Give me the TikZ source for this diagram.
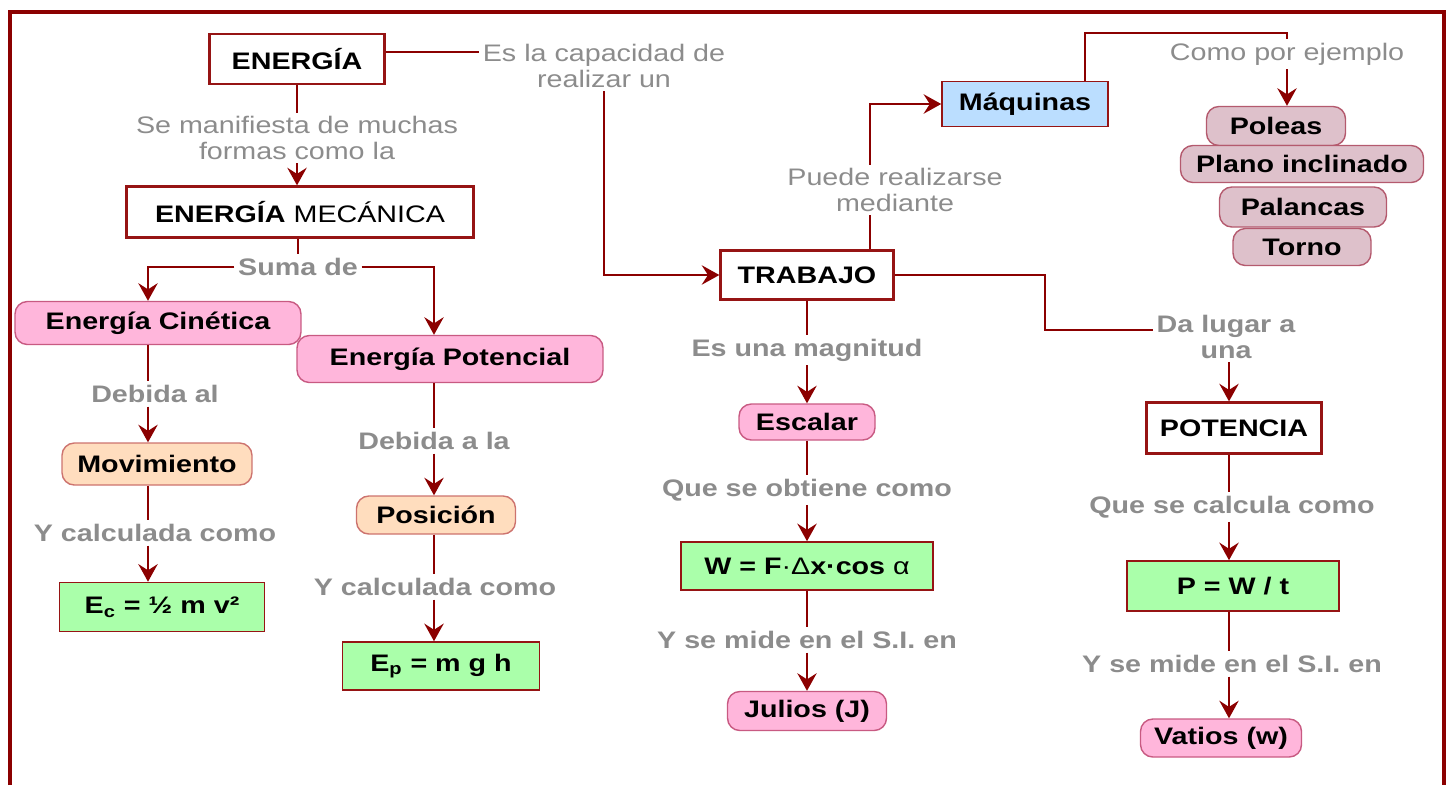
\documentclass[tikz,border=0pt]{standalone}
\usepackage{fontspec}
\setmainfont{Liberation Sans}[FakeStretch=1.2]
\usetikzlibrary{arrows.meta}
\definecolor{linea}{RGB}{139,0,0}
\definecolor{borde}{RGB}{150,20,20}
\definecolor{gris}{RGB}{140,140,140}
\definecolor{rosafondo}{RGB}{255,182,219}
\definecolor{rosaborde}{RGB}{200,90,130}
\definecolor{melfondo}{RGB}{255,221,190}
\definecolor{melborde}{RGB}{205,115,110}
\definecolor{malfondo}{RGB}{222,193,203}
\definecolor{malborde}{RGB}{180,90,110}
\definecolor{verde}{RGB}{170,255,170}
\definecolor{celeste}{RGB}{187,222,255}

\begin{document}
\begin{tikzpicture}[x=0.02cm,y=-0.02cm,>={Stealth[length=10pt,width=11pt,inset=3.5pt]}]
 \newcommand{\tam}{\fontsize{13.6}{14.6}\selectfont}
 \tikzstyle{concepto} = [draw=borde,line width=1.3pt,fill=white,inner sep=0pt,font=\tam\bfseries]
 \tikzstyle{rosa} = [draw=rosaborde,line width=0.8pt,fill=rosafondo,rounded corners=7pt,inner sep=0pt,font=\tam\bfseries]
 \tikzstyle{melocoton} = [rosa,draw=melborde,fill=melfondo]
 \tikzstyle{malva} = [rosa,draw=malborde,fill=malfondo]
 \tikzstyle{formula} = [draw=borde,line width=0.9pt,fill=verde,inner sep=0pt,font=\tam\bfseries]
 \tikzstyle{azul} = [draw=borde,line width=0.9pt,fill=celeste,inner sep=0pt,font=\tam\bfseries]
 \tikzstyle{enlace} = [text=gris,align=center,inner sep=2pt,font=\tam\bfseries]
 \tikzstyle{enlacefino} = [text=gris,align=center,inner sep=2pt,font=\tam]
 \tikzstyle{conector} = [draw=linea,line width=1.4pt]
 \tikzstyle{flecha} = [conector,->]

 \useasboundingbox (0,0) rectangle (1449,785);

% Marco
 \draw[linea,line width=2pt] (10,785) -- (10,12) -- (1444,12) -- (1444,785);

% Conceptos
 \node[concepto,minimum width=3.5cm,minimum height=1cm] (ener) at (297,59) {ENERGÍA};
 \node[concepto,minimum width=6.94cm,minimum height=1.02cm] (mec) at (300,212) {ENERGÍA \mdseries MECÁNICA};
 \node[concepto,minimum width=3.46cm,minimum height=0.98cm] (trab) at (807,275) {TRABAJO};
 \node[concepto,minimum width=3.5cm,minimum height=1.02cm] (potn) at (1234,428) {POTENCIA};

% Cajas
 \node[rosa,minimum width=5.72cm,minimum height=0.86cm] (cin) at (158,323) {Energía Cinética};
 \node[rosa,minimum width=6.12cm,minimum height=0.94cm] (pot) at (450,359) {Energía Potencial};
 \node[rosa,minimum width=2.72cm,minimum height=0.72cm] (esc) at (807,422) {Escalar};
 \node[rosa,minimum width=3.18cm,minimum height=0.78cm] (jul) at (807,711) {Julios (J)};
 \node[rosa,minimum width=3.22cm,minimum height=0.76cm] (vat) at (1221,738) {Vatios (w)};
 \node[melocoton,minimum width=3.8cm,minimum height=0.84cm] (mov) at (157,464) {Movimiento};
 \node[melocoton,minimum width=3.18cm,minimum height=0.76cm] (pos) at (436,515) {Posición};
 \node[formula,minimum width=4.1cm,minimum height=0.98cm] (ec) at (162,607) {E\textsubscript{c} = ½ m v²};
 \node[formula,minimum width=3.94cm,minimum height=0.96cm] (ep) at (441,666) {E\textsubscript{p} = m g h};
 \node[formula,minimum width=5.04cm,minimum height=0.96cm] (wf) at (807,566) {W = F{\mdseries·Δ}x·cos {\mdseries α}};
 \node[formula,minimum width=4.24cm,minimum height=1cm] (pf) at (1233,586) {P = W / t};
 \node[azul,minimum width=3.32cm,minimum height=0.9cm] (maq) at (1025,104) {Máquinas};
 \node[malva,minimum width=2.78cm,minimum height=0.78cm] (pol) at (1276,126) {Poleas};
 \node[malva,minimum width=4.86cm,minimum height=0.74cm] (pla) at (1302,164) {Plano inclinado};
 \node[malva,minimum width=3.34cm,minimum height=0.8cm] (pal) at (1303,207) {Palancas};
 \node[malva,minimum width=2.76cm,minimum height=0.74cm] (tor) at (1302,247) {Torno};

% Enlaces
 \node[enlacefino] (esla) at (604,66) {Es la capacidad de\\realizar un};
 \node[enlacefino] (manif) at (297,138) {Se manifiesta de muchas\\formas como la};
 \node[enlacefino] (puede) at (895,190) {Puede realizarse\\mediante};
 \node[enlacefino] (como) at (1287,54) {Como por ejemplo};
 \node[enlace] (suma) at (298,267) {Suma de};
 \node[enlace] (debal) at (155,394) {Debida al};
 \node[enlace] (ycal1) at (155,533) {Y calculada como};
 \node[enlace] (deb2) at (434,441) {Debida a la};
 \node[enlace] (ycal2) at (435,587) {Y calculada como};
 \node[enlace] (esmag) at (807,350) {Es una magnitud};
 \node[enlace] (qso) at (807,490) {Que se obtiene como};
 \node[enlace] (ysm1) at (807,640) {Y se mide en el S.I. en};
 \node[enlace] (dal) at (1226,337) {Da lugar a\\una};
 \node[enlace] (qsc) at (1232,507) {Que se calcula como};
 \node[enlace] (ysm2) at (1232,664) {Y se mide en el S.I. en};

% Columnas
 \coordinate (cA) at (148,0);
 \coordinate (cB) at (434,0);
 \coordinate (cD) at (1229,0);
 \coordinate (cE) at (870,0);
 \coordinate (cF) at (1085,33);
 \coordinate (cG) at (1045,0);
 \coordinate (cH) at (0,52);

% Conectores
 \draw[conector] (cH -| ener.east) -- (cH -| esla.west);
 \draw[flecha] (esla.south) |- (trab.west);
 \draw[conector] (ener) -- (manif);
 \draw[flecha] (manif) -- (manif |- mec.north);
 \draw[conector] (suma |- mec.south) -- (suma);
 \draw[flecha] (suma.west) -| (cA |- cin.north);
 \draw[flecha] (suma.east) -| (cB |- pot.north);

 \draw[conector] (cA |- cin.south) -- (cA |- debal.north);
 \draw[flecha] (cA |- debal.south) -- (cA |- mov.north);
 \draw[conector] (cA |- mov.south) -- (cA |- ycal1.north);
 \draw[flecha] (cA |- ycal1.south) -- (cA |- ec.north);

 \draw[conector] (cB |- pot.south) -- (cB |- deb2.north);
 \draw[flecha] (cB |- deb2.south) -- (cB |- pos.north);
 \draw[conector] (cB |- pos.south) -- (cB |- ycal2.north);
 \draw[flecha] (cB |- ycal2.south) -- (cB |- ep.north);

 \draw[conector] (trab) -- (esmag);
 \draw[flecha] (esmag) -- (esc);
 \draw[conector] (esc) -- (qso);
 \draw[flecha] (qso) -- (wf);
 \draw[conector] (wf) -- (ysm1);
 \draw[flecha] (ysm1) -- (jul);

 \draw[conector] (cE |- trab.north) -- (cE |- puede.south);
 \draw[flecha] (cE |- puede.north) |- (maq.west);
 \draw[conector] (cF |- maq.north) -- (cF) -| (como.north);
 \draw[flecha] (como.south) -- (como.south |- pol.north);

 \draw[conector] (trab.east) -- (trab.east -| cG) |- ([yshift=4pt]dal.west);
 \draw[flecha] (cD |- dal.south) -- (cD |- potn.north);
 \draw[conector] (cD |- potn.south) -- (cD |- qsc.north);
 \draw[flecha] (cD |- qsc.south) -- (cD |- pf.north);
 \draw[conector] (cD |- pf.south) -- (cD |- ysm2.north);
 \draw[flecha] (cD |- ysm2.south) -- (cD |- vat.north);
\end{tikzpicture}
\end{document}
